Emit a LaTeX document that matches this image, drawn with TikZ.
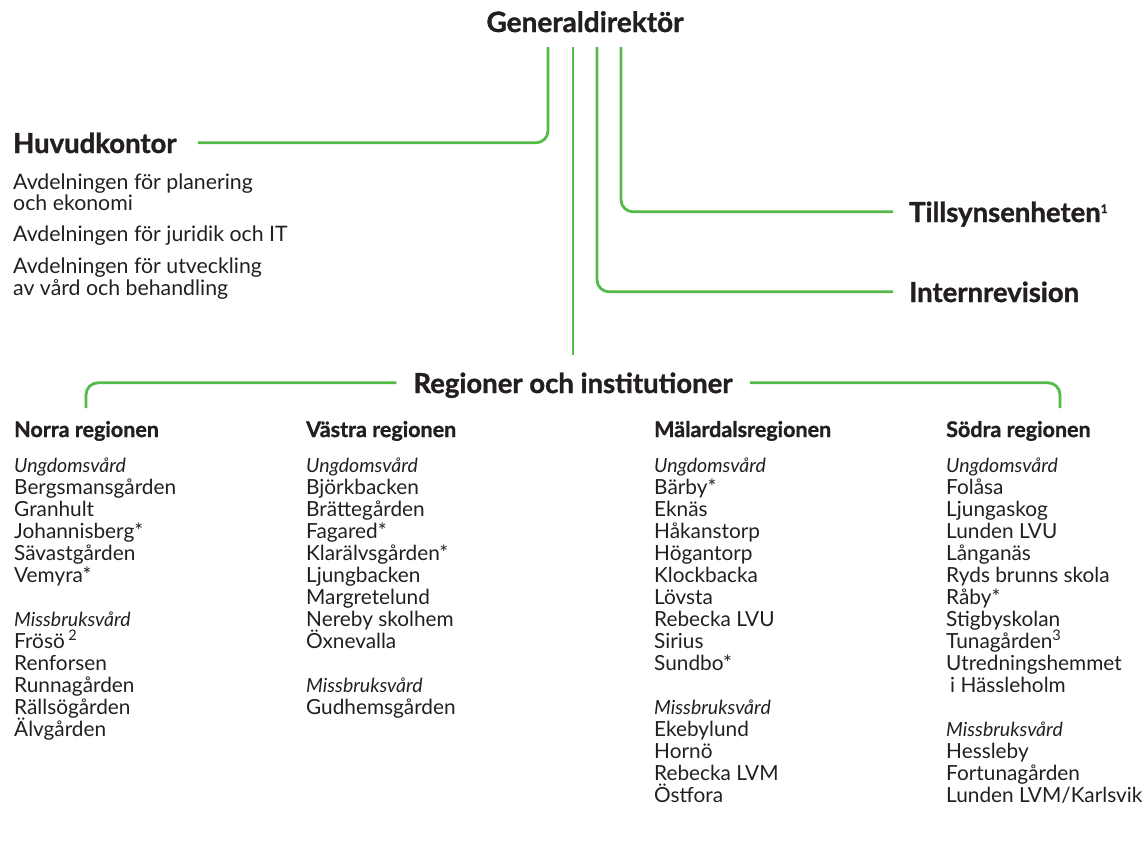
\documentclass[tikz,border=0pt]{standalone}
\usepackage{fontspec}
\setmainfont{Lato}[BoldFeatures={FakeBold=1.2}]
\definecolor{strokegreen}{RGB}{84,187,72}
\definecolor{inkblack}{RGB}{35,31,32}

\tikzset{
  conn/.style={strokegreen, line width=2.8pt, rounded corners=12pt},
  boss/.style={font=\bfseries\fontsize{28}{32}\selectfont, inner sep=0pt, text depth=0pt},
  unit/.style={font=\bfseries\fontsize{27.5}{30}\selectfont, inner sep=0pt, text depth=0pt, anchor=base west},
  dept/.style={font=\fontsize{21.3}{22}\selectfont, inner sep=0pt, anchor=base west},
  region/.style={font=\bfseries\fontsize{21.5}{22}\selectfont, inner sep=0pt, anchor=base west},
  kind/.style={font=\itshape\fontsize{19.5}{22}\selectfont, inner sep=0pt, anchor=base west},
  item/.style={font=\fontsize{20.8}{22}\selectfont, inner sep=0pt, anchor=base west}
}

\begin{document}
\begin{tikzpicture}[x=1pt, y=-1pt, every node/.append style={text=inkblack}]
    \useasboundingbox (0,0) rectangle (1148,860);
    % ledningen
    \node[boss, anchor=base] (gd) at (585,32) {Generaldirektör};
    \coordinate (gdHK) at (548,47);
    \coordinate (gdRI) at (573,47);
    \coordinate (gdIR) at (597,47);
    \coordinate (gdTS) at (621,47);
    % huvudkontoret
    \node[unit] (hk) at (13,153) {Huvudkontor};
    \foreach \y/\entry [count=\i] in {189/Avdelningen för planering, 210/och ekonomi,
        241/Avdelningen för juridik och IT, 273/Avdelningen för utveckling, 295/av vård och behandling}
    \node[dept] (avd\i) at (13,\y) {\entry};
    \draw[conn] (gdHK) |- ([xshift=21pt]hk.east);
    % tillsyn och revision
    \node[unit] (ts) at (909,222) {Tillsynsenheten\raisebox{9pt}{\fontsize{12}{12}\selectfont 1}};
    \node[unit] (ir) at (909,302) {Internrevision};
    \draw[conn] (gdTS) |- ([xshift=-16pt]ts.west);
    \draw[conn] (gdIR) |- ([xshift=-16pt]ir.west);
    % regioner och institutioner
    \node[unit, anchor=base] (ri) at (573,393) {Regioner och institutioner};
    \coordinate (riL) at (86,408);
    \coordinate (riR) at (1060,408);
    \draw[conn] (gdRI) -- ([yshift=17pt]ri.north);
    \draw[conn] ([xshift=-17pt]ri.west) -| (riL);
    \draw[conn] ([xshift=17pt]ri.east) -| (riR);
    % Norra regionen
    \node[region] (norra) at (14,437) {Norra regionen};
    \node[kind] (norraU) at (14,472) {Ungdomsvård};
    \foreach \entry [count=\i] in {Bergsmansgården, Granhult, Johannisberg*, Sävastgården, Vemyra*}
    \node[item] (norraU\i) at (14,472+22*\i) {\entry};
    \node[kind] (norraM) at (14,626) {Missbruksvård};
    \foreach \entry [count=\i] in {Frösö\,\textsuperscript{2}, Renforsen, Runnagården, Rällsögården, Älvgården}
    \node[item] (norraM\i) at (14,626+22*\i) {\entry};
    % Västra regionen
    \node[region] (vastra) at (306,437) {Västra regionen};
    \node[kind] (vastraU) at (306,472) {Ungdomsvård};
    \foreach \entry [count=\i] in {Björkbacken, Brättegården, Fagared*, Klarälvsgården*, Ljungbacken,
        Margretelund, Nereby skolhem, Öxnevalla}
    \node[item] (vastraU\i) at (306,472+22*\i) {\entry};
    \node[kind] (vastraM) at (306,692) {Missbruksvård};
    \node[item] (vastraM1) at (306,714) {Gudhemsgården};
    % Mälardalsregionen
    \node[region] (malar) at (654,437) {Mälardalsregionen};
    \node[kind] (malarU) at (654,472) {Ungdomsvård};
    \foreach \entry [count=\i] in {Bärby*, Eknäs, Håkanstorp, Högantorp, Klockbacka, Lövsta,
        Rebecka LVU, Sirius, Sundbo*}
    \node[item] (malarU\i) at (654,472+22*\i) {\entry};
    \node[kind] (malarM) at (654,714) {Missbruksvård};
    \foreach \entry [count=\i] in {Ekebylund, Hornö, Rebecka LVM, Östfora}
    \node[item] (malarM\i) at (654,714+22*\i) {\entry};
    % Södra regionen
    \node[region] (sodra) at (946,437) {Södra regionen};
    \node[kind] (sodraU) at (946,472) {Ungdomsvård};
    \foreach \entry [count=\i] in {Folåsa, Ljungaskog, Lunden LVU, Långanäs, Ryds brunns skola, Råby*,
        Stigbyskolan, Tunagården\textsuperscript{3}, Utredningshemmet, \hspace{4pt}i Hässleholm}
    \node[item] (sodraU\i) at (946,472+22*\i) {\entry};
    \node[kind] (sodraM) at (946,736) {Missbruksvård};
    \foreach \entry [count=\i] in {Hessleby, Fortunagården, Lunden LVM/Karlsvik}
    \node[item] (sodraM\i) at (946,736+22*\i) {\entry};
\end{tikzpicture}
\end{document}
